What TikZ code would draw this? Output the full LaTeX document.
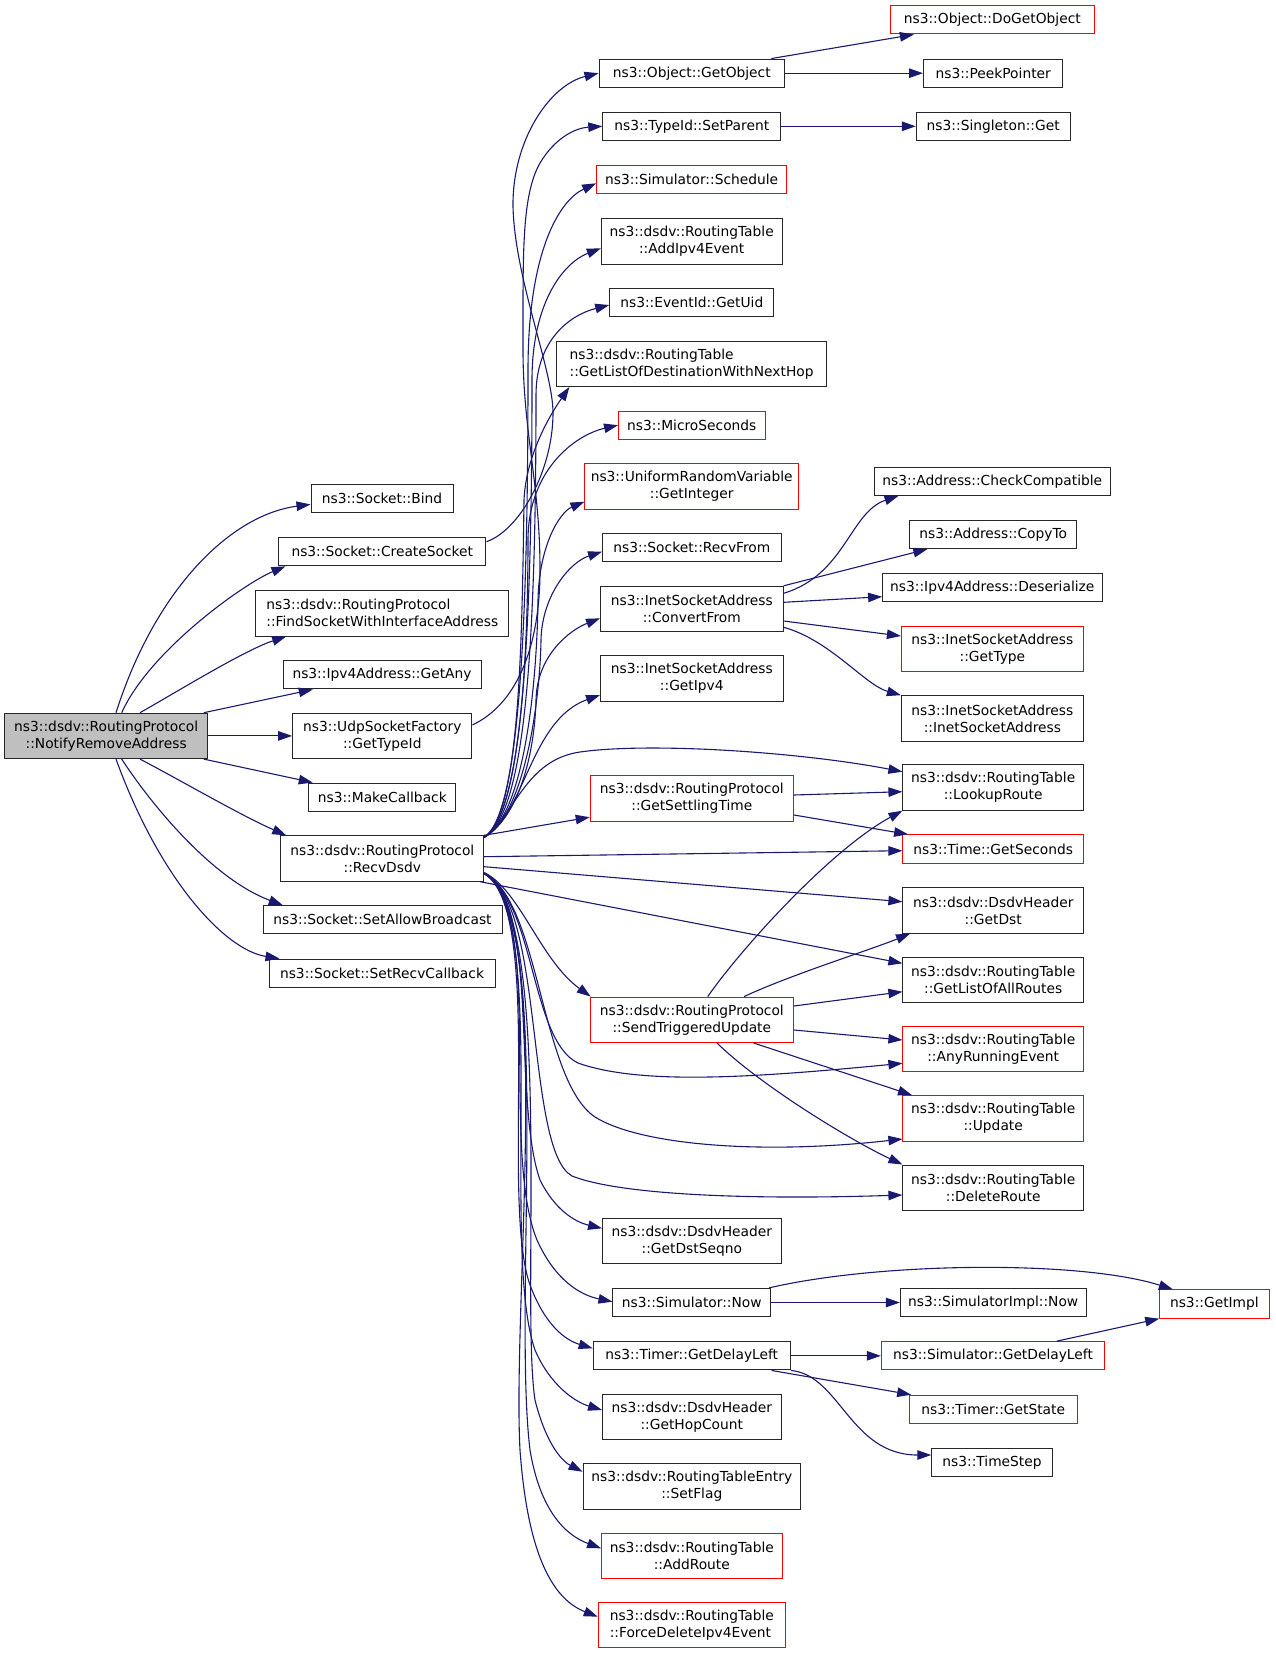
\documentclass[tikz,border=0pt]{standalone}
\usepackage{fontspec}
\setmainfont{DejaVu Sans}
\usetikzlibrary{arrows.meta}
\definecolor{edgec}{HTML}{191970}
\definecolor{gfill}{HTML}{BFBFBF}
\begin{document}
\begin{tikzpicture}[x=1pt,y=-1pt,
  blk/.style={draw=black!85, line width=1pt, inner sep=1pt, font=\fontsize{13.8}{17}\selectfont, align=center, fill=white},
  redb/.style={blk, draw=red},
  lft/.style={align=left},
  one/.style={minimum height=28.3pt},
  two/.style={minimum height=45.4pt},
  edg/.style={draw=edgec, line width=1.1pt, -{Triangle[length=14pt,width=9.5pt]}},
]
\path[use as bounding box, fill=white] (0,0) rectangle (1275,1653);

% left column
\node[blk, two, fill=gfill, minimum width=203pt] (nra) at (106.2,735.9) {ns3::dsdv::RoutingProtocol\\::NotifyRemoveAddress};
\node[blk, one, minimum width=142pt] (bind) at (382,498.6) {ns3::Socket::Bind};
\node[blk, one, minimum width=207.3pt] (create) at (382.3,551.7) {ns3::Socket::CreateSocket};
\node[blk, two, lft, minimum width=252.7pt] (findsock) at (382.3,613.3) {ns3::dsdv::RoutingProtocol\\::FindSocketWithInterfaceAddress};
\node[blk, one, minimum width=198pt] (getany) at (382,674.8) {ns3::Ipv4Address::GetAny};
\node[blk, two, minimum width=179.3pt] (udp) at (382.3,735.9) {ns3::UdpSocketFactory\\::GetTypeId};
\node[blk, one, minimum width=146.7pt] (makecb) at (382.3,797.2) {ns3::MakeCallback};
\node[blk, two, minimum width=202.7pt] (recvdsdv) at (382.3,858.5) {ns3::dsdv::RoutingProtocol\\::RecvDsdv};
\node[blk, one, minimum width=239pt] (setallow) at (382.5,919.8) {ns3::Socket::SetAllowBroadcast};
\node[blk, one, minimum width=226pt] (setrecv) at (382,973.2) {ns3::Socket::SetRecvCallback};

% middle column
\node[blk, one, minimum width=185.6pt] (getobj) at (691.8,73.2) {ns3::Object::GetObject};
\node[blk, one, minimum width=178pt] (setparent) at (691.8,126.3) {ns3::TypeId::SetParent};
\node[redb, one, minimum width=189.8pt] (schedule) at (691.6,179.7) {ns3::Simulator::Schedule};
\node[blk, two, minimum width=180.7pt] (addipv4) at (691.7,241.3) {ns3::dsdv::RoutingTable\\::AddIpv4Event};
\node[blk, one, minimum width=164.2pt] (getuid) at (691.8,302.3) {ns3::EventId::GetUid};
\node[blk, two, lft, minimum width=269.4pt] (getlistdest) at (691.6,363.8) {ns3::dsdv::RoutingTable\\::GetListOfDestinationWithNextHop};
\node[redb, one, minimum width=146.6pt] (micro) at (691.8,425.2) {ns3::MicroSeconds};
\node[redb, two, minimum width=213.5pt] (getint) at (691.7,486.3) {ns3::UniformRandomVariable\\::GetInteger};
\node[blk, one, minimum width=178.7pt] (recvfrom) at (691.9,547.8) {ns3::Socket::RecvFrom};
\node[blk, two, minimum width=182.6pt] (convfrom) at (691.8,609) {ns3::InetSocketAddress\\::ConvertFrom};
\node[blk, two, minimum width=182.6pt] (getipv4) at (691.8,678.5) {ns3::InetSocketAddress\\::GetIpv4};
\node[redb, two, minimum width=203.2pt] (settling) at (691.8,798.3) {ns3::dsdv::RoutingProtocol\\::GetSettlingTime};
\node[redb, two, minimum width=203.2pt] (sendtrig) at (691.8,1019.8) {ns3::dsdv::RoutingProtocol\\::SendTriggeredUpdate};
\node[blk, two, minimum width=178.5pt] (dstseqno) at (691.8,1241.2) {ns3::dsdv::DsdvHeader\\::GetDstSeqno};
\node[blk, one, minimum width=157.7pt] (simnow) at (691.8,1302.5) {ns3::Simulator::Now};
\node[blk, one, minimum width=197.3pt] (timerdelay) at (691.8,1355.8) {ns3::Timer::GetDelayLeft};
\node[blk, two, minimum width=178.5pt] (hopcount) at (691.8,1417) {ns3::dsdv::DsdvHeader\\::GetHopCount};
\node[blk, two, minimum width=217.5pt] (setflag) at (691.8,1486.3) {ns3::dsdv::RoutingTableEntry\\::SetFlag};
\node[redb, two, minimum width=180.5pt] (addroute) at (691.8,1555.7) {ns3::dsdv::RoutingTable\\::AddRoute};
\node[redb, two, lft, minimum width=187.1pt] (forcedel) at (691.8,1625.2) {ns3::dsdv::RoutingTable\\::ForceDeleteIpv4Event};

% right column
\node[redb, one, minimum width=203.4pt] (dogetobj) at (992.3,19.85) {ns3::Object::DoGetObject};
\node[blk, one, minimum width=139.4pt] (peek) at (993.2,73.2) {ns3::PeekPointer};
\node[blk, one, minimum width=153.8pt] (singleton) at (993.2,126.3) {ns3::Singleton::Get};
\node[blk, one, minimum width=235.4pt] (checkcompat) at (992.3,481.2) {ns3::Address::CheckCompatible};
\node[blk, one, minimum width=166.8pt] (copyto) at (993.2,534.5) {ns3::Address::CopyTo};
\node[blk, one, minimum width=219.4pt] (deserialize) at (992.3,587.7) {ns3::Ipv4Address::Deserialize};
\node[redb, two, minimum width=182pt] (gettype) at (992.4,649.2) {ns3::InetSocketAddress\\::GetType};
\node[blk, two, minimum width=182pt] (inetsock) at (992.4,718.4) {ns3::InetSocketAddress\\::InetSocketAddress};
\node[blk, two, minimum width=180.6pt] (lookup) at (993.2,787.5) {ns3::dsdv::RoutingTable\\::LookupRoute};
\node[redb, one, minimum width=180.6pt] (getseconds) at (993.2,849) {ns3::Time::GetSeconds};
\node[blk, two, minimum width=180.6pt] (getdst) at (993.2,910.5) {ns3::dsdv::DsdvHeader\\::GetDst};
\node[blk, two, minimum width=180.6pt] (getallroutes) at (993.2,979.7) {ns3::dsdv::RoutingTable\\::GetListOfAllRoutes};
\node[redb, two, minimum width=180.6pt] (anyrunning) at (993.2,1049) {ns3::dsdv::RoutingTable\\::AnyRunningEvent};
\node[redb, two, minimum width=180.6pt] (update) at (993.2,1118.3) {ns3::dsdv::RoutingTable\\::Update};
\node[blk, two, minimum width=180.6pt] (deleteroute) at (993.2,1187.7) {ns3::dsdv::RoutingTable\\::DeleteRoute};
\node[blk, one, minimum width=185.7pt] (simimplnow) at (993.2,1302.5) {ns3::SimulatorImpl::Now};
\node[redb, one, minimum width=223.4pt] (simdelay) at (993,1355.8) {ns3::Simulator::GetDelayLeft};
\node[redb, one, minimum width=168.3pt] (getstate) at (993.2,1409.3) {ns3::Timer::GetState};
\node[blk, one, minimum width=120.5pt] (timestep) at (992,1462.5) {ns3::TimeStep};
\node[redb, one, minimum width=109.3pt] (getimpl) at (1214.4,1304) {ns3::GetImpl};

% edges from NotifyRemoveAddress
\draw[edg] ([xshift=9.8pt]nra.north) .. controls (155,590) and (230,515) .. ([yshift=-5.8pt]bind.west);
\draw[edg] ([xshift=15.5pt]nra.north) .. controls (150,650) and (245,583) .. ([xshift=7.3pt]create.south west);
\draw[edg] ([xshift=33.8pt]nra.north) .. controls (180,690) and (245,650) .. ([xshift=30.7pt]findsock.south west);
\draw[edg] ([xshift=-4.4pt]nra.north east) -- ([xshift=30.3pt]getany.south west);
\draw[edg] (nra.east) -- (udp.west);
\draw[edg] ([xshift=-4.4pt]nra.south east) -- ([xshift=4.3pt]makecb.north west);
\draw[edg] ([xshift=33.8pt]nra.south) .. controls (180,780) and (240,815) .. ([xshift=5.7pt]recvdsdv.north west);
\draw[edg] ([xshift=15.5pt]nra.south) .. controls (155,810) and (215,880) .. ([xshift=20.3pt]setallow.north west);
\draw[edg] ([xshift=9.8pt]nra.south) .. controls (160,880) and (225,950) .. ([xshift=11pt]setrecv.north west);

% CreateSocket and GetTypeId
\draw[edg] ([yshift=10pt]create.east) .. controls (520,530) and (553,470) .. (553,413) .. controls (553,370) and (515,280) .. (513,207) .. controls (512,140) and (550,85) .. (getobj.west);
\draw[edg] ([yshift=11pt]udp.east) .. controls (515,705) and (540,650) .. (540,570) .. controls (540,480) and (522,430) .. (523,340) .. controls (523,250) and (522,195) .. (540,163) .. controls (555,138) and (575,128) .. (setparent.west);

% RecvDsdv upward
\draw[edg] ([yshift=-2pt]recvdsdv.north east) .. controls (520,815) and (528,620) .. (528,370) .. controls (528,250) and (560,200) .. ([yshift=-3.6pt]schedule.west);
\draw[edg] ([yshift=-2pt]recvdsdv.north east) .. controls (522,815) and (532,640) .. (532,380) .. controls (532,300) and (565,262) .. ([yshift=-7pt]addipv4.west);
\draw[edg] ([yshift=-2pt]recvdsdv.north east) .. controls (524,815) and (536,660) .. (536,395) .. controls (536,340) and (570,315) .. ([yshift=-2.7pt]getuid.west);
\draw[edg] ([yshift=-2pt]recvdsdv.north east) .. controls (520,815) and (522,640) .. (524,500) .. controls (526,455) and (550,415) .. ([xshift=13pt]getlistdest.south west);
\draw[edg] ([yshift=-2pt]recvdsdv.north east) .. controls (522,815) and (528,640) .. (528,540) .. controls (528,470) and (575,435) .. (micro.west);
\draw[edg] ([yshift=-2pt]recvdsdv.north east) .. controls (525,815) and (537,680) .. (538,600) .. controls (539,545) and (560,512) .. ([yshift=-15.4pt]getint.west);
\draw[edg] ([yshift=-2pt]recvdsdv.north east) .. controls (525,815) and (540,700) .. (541,640) .. controls (542,595) and (570,562) .. ([yshift=-3.9pt]recvfrom.west);
\draw[edg] ([yshift=-2pt]recvdsdv.north east) .. controls (522,815) and (535,745) .. (536,700) .. controls (537,655) and (570,630) .. ([yshift=-9.3pt]convfrom.west);
\draw[edg] ([yshift=-2pt]recvdsdv.north east) .. controls (525,815) and (530,720) .. ([yshift=-16.5pt]getipv4.west);
\draw[edg] ([yshift=-2pt]recvdsdv.north east) .. controls (515,815) and (525,760) .. (580,752) .. controls (650,742) and (800,752) .. ([yshift=15.8pt]lookup.west);
\draw[edg] (recvdsdv.north east) -- ([yshift=4.3pt]settling.south west);
\draw[edg] ([yshift=1.8pt]recvdsdv.east) -- ([yshift=-1.7pt]getseconds.west);
\draw[edg] ([yshift=-8.2pt]recvdsdv.east) -- ([yshift=8.8pt]getdst.west);
\draw[edg] ([xshift=-4pt]recvdsdv.south east) -- ([yshift=16.4pt]getallroutes.west);

% RecvDsdv downward
\draw[edg] ([yshift=-14pt]recvdsdv.east) .. controls (520,890) and (540,960) .. ([xshift=1pt]sendtrig.north west);
\draw[edg] ([yshift=-15pt]recvdsdv.east) .. controls (535,900) and (530,1040) .. (578,1063) .. controls (640,1085) and (750,1078) .. ([yshift=-14.3pt]anyrunning.west);
\draw[edg] ([yshift=-15pt]recvdsdv.east) .. controls (540,900) and (540,1080) .. (595,1117) .. controls (640,1145) and (760,1155) .. ([yshift=-20.7pt]update.west);
\draw[edg] ([yshift=-15pt]recvdsdv.east) .. controls (545,900) and (525,1150) .. (572,1176) .. controls (620,1195) and (750,1200) .. ([yshift=-7.3pt]deleteroute.west);
\draw[edg] ([yshift=-15pt]recvdsdv.east) .. controls (540,900) and (512,1100) .. (540,1180) .. controls (555,1210) and (575,1222) .. ([yshift=12.9pt]dstseqno.west);
\draw[edg] ([yshift=-15pt]recvdsdv.east) .. controls (545,910) and (500,1150) .. (537,1240) .. controls (555,1280) and (580,1295) .. ([yshift=0.8pt]simnow.west);
\draw[edg] ([yshift=-15pt]recvdsdv.east) .. controls (545,910) and (500,1200) .. (530,1285) .. controls (545,1325) and (565,1340) .. ([yshift=7.5pt]timerdelay.west);
\draw[edg] ([yshift=-15pt]recvdsdv.east) .. controls (550,910) and (500,1250) .. (535,1350) .. controls (550,1385) and (575,1402) .. ([yshift=7pt]hopcount.west);
\draw[edg] ([yshift=-15pt]recvdsdv.east) .. controls (555,910) and (520,1300) .. (535,1400) .. controls (545,1440) and (560,1460) .. ([yshift=14.6pt]setflag.west);
\draw[edg] ([yshift=-15pt]recvdsdv.east) .. controls (555,910) and (512,1300) .. (530,1450) .. controls (540,1510) and (565,1535) .. ([yshift=7.4pt]addroute.west);
\draw[edg] ([yshift=-15pt]recvdsdv.east) .. controls (555,910) and (512,1300) .. (520,1450) .. controls (528,1560) and (555,1600) .. ([yshift=8.5pt]forcedel.west);

% second level
\draw[edg] ([xshift=-13.7pt]getobj.north east) -- ([xshift=23.8pt]dogetobj.south west);
\draw[edg] (getobj.east) -- (peek.west);
\draw[edg] (setparent.east) -- (singleton.west);
\draw[edg] ([yshift=15.7pt]convfrom.east) .. controls (845,575) and (850,512) .. ([xshift=24.4pt]checkcompat.south west);
\draw[edg] (convfrom.north east) -- ([xshift=18pt]copyto.south west);
\draw[edg] ([yshift=6.7pt]convfrom.east) -- ([yshift=-9pt]deserialize.west);
\draw[edg] ([yshift=-12pt]convfrom.east) -- ([yshift=13.2pt]gettype.west);
\draw[edg] ([yshift=-18.3pt]convfrom.east) .. controls (830,640) and (865,685) .. (inetsock.north west);
\draw[edg] ([yshift=3.3pt]settling.east) -- ([yshift=-4.2pt]lookup.west);
\draw[edg] ([yshift=-16.7pt]settling.east) -- ([xshift=5.7pt]getseconds.north west);
\draw[edg] ([xshift=15.9pt]sendtrig.north) .. controls (740,950) and (830,850) .. (lookup.south west);
\draw[edg] ([xshift=52.2pt]sendtrig.north) .. controls (790,975) and (870,950) .. ([xshift=7.6pt]getdst.south west);
\draw[edg] ([yshift=13.8pt]sendtrig.east) -- ([yshift=-12pt]getallroutes.west);
\draw[edg] ([yshift=-10.2pt]sendtrig.east) -- ([yshift=9pt]anyrunning.west);
\draw[edg] ([xshift=61.8pt]sendtrig.south) -- ([xshift=9.6pt]update.north west);
\draw[edg] ([xshift=25.2pt]sendtrig.south) .. controls (760,1085) and (850,1140) .. (deleteroute.north west);
\draw[edg] (simnow.east) -- (simimplnow.west);
\draw[edg] ([xshift=-2pt]simnow.north east) .. controls (880,1262) and (1080,1260) .. ([xshift=13.6pt]getimpl.north west);
\draw[edg] (timerdelay.east) -- (simdelay.west);
\draw[edg] ([xshift=-19.4pt]timerdelay.south east) -- ([xshift=2.6pt]getstate.north west);
\draw[edg] (timerdelay.south east) .. controls (840,1375) and (850,1455) .. ([yshift=7.5pt]timestep.west);
\draw[edg] ([xshift=63.7pt]simdelay.north) -- (getimpl.south west);
\end{tikzpicture}
\end{document}
